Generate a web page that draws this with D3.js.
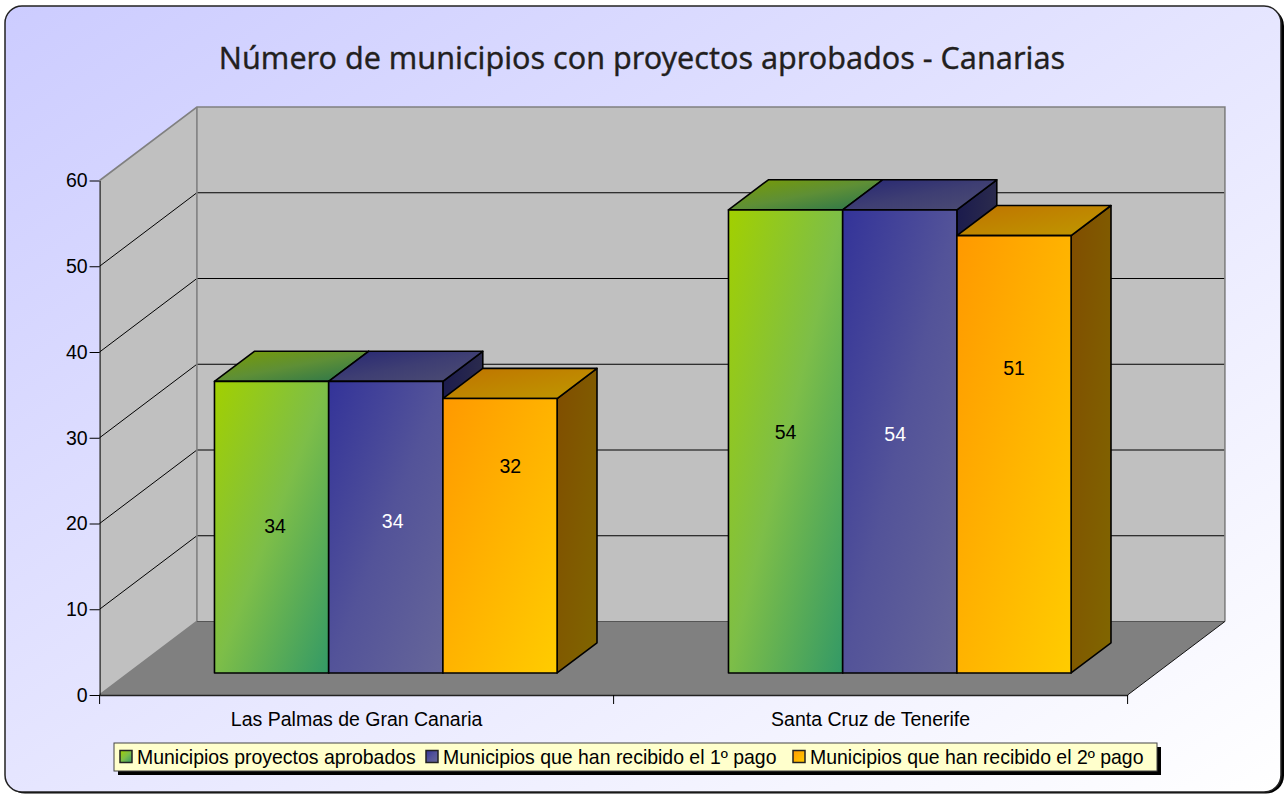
<!DOCTYPE html>
<html lang="es"><head><meta charset="utf-8">
<style>html,body{margin:0;padding:0;background:#fff}svg{display:block}</style>
<script src="https://d3js.org/d3.v7.min.js"></script></head><body>
<div id="chart"></div>
<script>
const title = "Número de municipios con proyectos aprobados - Canarias";
const categories = ["Las Palmas de Gran Canaria", "Santa Cruz de Tenerife"];
const seriesNames = ["Municipios proyectos aprobados", "Municipios que han recibido el 1º pago", "Municipios que han recibido el 2º pago"];
const aprobados = [34, 54];
const primerPago = [34, 54];
const segundoPago = [32, 51];
const yTicks = [0, 10, 20, 30, 40, 50, 60];
const seriesFrom = ["#a2d000", "#333399", "#ff9900"];
const seriesMid = ["#7dbe48", "#535399", "#ffb300"];
const seriesTo = ["#339966", "#666699", "#ffcc00"];
// where each value label sits within its bar's front face (fraction of width, fraction of height)
const labelFx = [[.53, .50], [.56, .46], [.59, .50]];
const labelFy = [[.505, .52], [.522, .516], [.752, .698]];
const labelColors = ["#000", "#fff", "#000"];

const W = 1285, H = 794;
const seriesValues = [aprobados, primerPago, segundoPago];
const svg = d3.select("#chart").append("svg").attr("width", W).attr("height", H);
const defs = svg.append("defs");

const bg = defs.append("linearGradient").attr("id", "bg").attr("x1", 0).attr("y1", 0).attr("x2", 1).attr("y2", 1);
bg.append("stop").attr("offset", 0).attr("stop-color", "#ccccff");
bg.append("stop").attr("offset", 1).attr("stop-color", "#ffffff");

function grad(id, a, m, b) {
  const g = defs.append("linearGradient").attr("id", id).attr("x1", 0).attr("y1", 0).attr("x2", 1).attr("y2", 1);
  g.append("stop").attr("offset", 0).attr("stop-color", a);
  g.append("stop").attr("offset", .5).attr("stop-color", m);
  g.append("stop").attr("offset", 1).attr("stop-color", b);
}
const shade = (c, k) => { const r = d3.rgb(c); return d3.rgb(r.r * k, r.g * k, r.b * k).formatHex(); };
seriesFrom.forEach((c, i) => {
  grad("front" + i, c, seriesMid[i], seriesTo[i]);
  grad("top" + i, shade(c, .75), shade(seriesMid[i], .75), shade(seriesTo[i], .75));
  grad("side" + i, shade(c, .5), shade(seriesMid[i], .5), shade(seriesTo[i], .5));
});

// card
svg.append("rect").attr("x", 7).attr("y", 8).attr("width", 1277).attr("height", 785.5).attr("rx", 18).attr("fill", "#000");
svg.append("rect").attr("x", 5).attr("y", 6).attr("width", 1276).attr("height", 786).attr("rx", 17)
  .attr("fill", "url(#bg)").attr("stroke", "#222").attr("stroke-width", 1.5);

svg.append("text").attr("x", 642).attr("y", 69).attr("text-anchor", "middle")
  .attr("font-family", "'Noto Sans'").attr("font-size", 30.5).attr("fill", "#231f20")
  .attr("stroke", "#231f20").attr("stroke-width", .3).text(title);

// scales
const x = d3.scaleBand().domain(categories).range([99.6, 1127.6]);
const y = d3.scaleLinear().domain([0, 60]).range([695, 180.5]);
const inner = d3.scaleBand().domain(d3.range(3)).range([.1667, .8333]);
const z = d3.scaleLinear().domain([0, 1]).range([0, 1]);
const DX = 97.3, DY = -73.5;
const P = (px, py, d) => [px + DX * z(d), py + DY * z(d)];
const line = d3.line();
const poly = (g, pts, fill, stroke, sw) => g.append("path").attr("d", line(pts) + "Z")
  .attr("fill", fill).attr("stroke", stroke || "none").attr("stroke-width", sw || 0).attr("stroke-linejoin", "round");

const x0 = x.range()[0], x1 = x.range()[1], y0 = y(0), yT = y(60);
const walls = svg.append("g");
poly(walls, [P(x0, yT, 1), P(x1, yT, 1), P(x1, y0, 1), P(x0, y0, 1)], "#c0c0c0");
poly(walls, [P(x0, yT, 0), P(x0, yT, 1), P(x0, y0, 1), P(x0, y0, 0)], "#c0c0c0");
poly(walls, [P(x0, y0, 0), P(x1, y0, 0), P(x1, y0, 1), P(x0, y0, 1)], "#808080");

// gridlines
yTicks.slice(1, -1).forEach(t => {
  walls.append("path").attr("fill", "none").attr("stroke", "#000").attr("stroke-width", 1)
    .attr("d", line([P(x0, y(t), 0), P(x0, y(t), 1), P(x1, y(t), 1)]));
});
// wall outlines
walls.append("path").attr("fill", "none").attr("stroke", "#808080").attr("stroke-width", 1.6)
  .attr("d", line([P(x0, yT, 0), P(x0, yT, 1), P(x1, yT, 1), P(x1, y0, 1)]));
walls.append("path").attr("fill", "none").attr("stroke", "#808080").attr("stroke-width", 1.6)
  .attr("d", line([P(x0, yT, 1), P(x0, y0, 1), P(x0, y0, 0)]));
walls.append("path").attr("fill", "none").attr("stroke", "#555").attr("stroke-width", 1)
  .attr("d", line([P(x0, y0, 1), P(x1, y0, 1)]));
walls.append("path").attr("fill", "none").attr("stroke", "#111").attr("stroke-width", 1)
  .attr("d", line([P(x1, y0, 0), P(x1, y0, 1)]));

// axes
const yAxis = svg.append("g").attr("transform", `translate(${x0},0)`)
  .call(d3.axisLeft(y).tickValues(yTicks).tickSize(10).tickPadding(2).tickSizeOuter(0));
yAxis.select(".domain").attr("stroke", "#000").attr("stroke-width", 1);
yAxis.selectAll("line").attr("stroke", "#000");
yAxis.selectAll("text").attr("font-family", "'Liberation Sans'").attr("font-size", 19.5).attr("fill", "#000");

const xAxis = svg.append("g").attr("transform", `translate(0,${y0})`)
  .call(d3.axisBottom(x).tickValues([]).tickSizeOuter(0));
xAxis.select(".domain").attr("stroke", "#222").attr("stroke-width", 1.5);
const edges = [x0, x(categories[1]), x1];
xAxis.selectAll(".edge").data(edges).join("line").attr("class", "edge")
  .attr("x1", d => d).attr("x2", d => d).attr("y1", 0).attr("y2", 9).attr("stroke", "#000");
xAxis.selectAll(".lab").data(categories).join("text").attr("class", "lab")
  .attr("x", d => x(d) + x.bandwidth() / 2).attr("y", 31).attr("text-anchor", "middle")
  .attr("font-family", "'Liberation Sans'").attr("font-size", 19.5).attr("fill", "#000").text(d => d);

// bars
const zFront = .3, zBack = .71;
const barW = inner.bandwidth() * x.bandwidth();
categories.forEach((cat, c) => {
  seriesValues.forEach((vals, s) => {
    const bx = x(cat) + inner(s) * x.bandwidth(), v = vals[c];
    const g = svg.append("g");
    const a = P(bx, y(v), zFront), b = P(bx + barW, y(v), zFront);
    const cB = P(bx + barW, y(0), zFront), dB = P(bx, y(0), zFront);
    const a2 = P(bx, y(v), zBack), b2 = P(bx + barW, y(v), zBack), c2 = P(bx + barW, y(0), zBack);
    poly(g, [b, b2, c2, cB], `url(#side${s})`, "#000", 1.6);
    poly(g, [a, a2, b2, b], `url(#top${s})`, "#000", 1.6);
    poly(g, [a, b, cB, dB], `url(#front${s})`, "#000", 1.6);
  });
});
// value labels above all faces
categories.forEach((cat, c) => {
  seriesValues.forEach((vals, s) => {
    const bx = x(cat) + inner(s) * x.bandwidth(), v = vals[c];
    const [lx] = P(bx + barW * labelFx[s][c], 0, zFront);
    const [, ly] = P(0, y(0) + (y(v) - y(0)) * labelFy[s][c], zFront);
    svg.append("text").attr("x", lx).attr("y", ly).attr("dy", ".35em").attr("text-anchor", "middle")
      .attr("font-family", "'Liberation Sans'").attr("font-size", 19.5).attr("fill", labelColors[s]).text(v);
  });
});

// legend
const lg = svg.append("g");
lg.append("rect").attr("x", 118).attr("y", 747).attr("width", 1043).attr("height", 28).attr("fill", "#000");
lg.append("rect").attr("x", 114).attr("y", 743).attr("width", 1043).attr("height", 28)
  .attr("fill", "#ffffcc").attr("stroke", "#444").attr("stroke-width", 1);
const legendX = d3.scaleOrdinal().domain(d3.range(3)).range([120, 426, 793]);
seriesNames.forEach((n, i) => {
  lg.append("rect").attr("x", legendX(i)).attr("y", 750.5).attr("width", 12).attr("height", 12)
    .attr("fill", `url(#front${i})`).attr("stroke", "#222").attr("stroke-width", 1.5);
  lg.append("text").attr("x", legendX(i) + 17).attr("y", 763.5)
    .attr("font-family", "'Liberation Sans'").attr("font-size", 19.45).attr("fill", "#000").text(n);
});
</script></body></html>
